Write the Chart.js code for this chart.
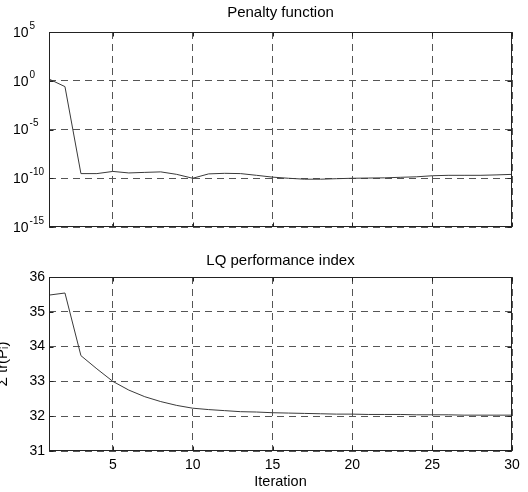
<!DOCTYPE html>
<html><head><meta charset="utf-8">
<script src="https://cdn.jsdelivr.net/npm/chart.js@4.4.1/dist/chart.umd.min.js"></script>
<style>
html,body{margin:0;padding:0;background:#fff;width:528px;height:492px;overflow:hidden;position:relative}
#c1{position:absolute;left:0;top:0}
#c2{position:absolute;left:-6px;top:240px}
</style></head><body>
<canvas id="c1" width="528" height="240"></canvas>
<canvas id="c2" width="534" height="252"></canvas>
<script>
const iterations = [1,2,3,4,5,6,7,8,9,10,11,12,13,14,15,16,17,18,19,20,21,22,23,24,25,26,27,28,29,30];
const penalty = [1.5,0.25,3e-10,3e-10,5e-10,3.5e-10,4e-10,4.5e-10,2.5e-10,1e-10,2.8e-10,3.2e-10,3e-10,2e-10,1.3e-10,1e-10,8e-11,8e-11,9e-11,1e-10,1.05e-10,1.1e-10,1.25e-10,1.4e-10,1.8e-10,2e-10,2e-10,2e-10,2.2e-10,2.5e-10];
const lqIndex = [35.48,35.54,33.74,33.36,33.0,32.75,32.56,32.42,32.31,32.23,32.19,32.16,32.13,32.12,32.10,32.09,32.08,32.07,32.06,32.06,32.05,32.05,32.05,32.04,32.04,32.04,32.03,32.03,32.03,32.03];
const xTicks = [5,10,15,20,25,30];
const penaltyTicks = [1e-15,1e-10,1e-5,1,1e5];
const penaltyTickBase = '10';
const penaltyTickExponents = ['-15','-10','-5','0','5'];
const lqTicks = [31,32,33,34,35,36];
const titleTop = 'Penalty function';
const titleBottom = 'LQ performance index';
const xLabel = 'Iteration';
const yLabelBottom = '\u03A3 tr(P\u1D62)';

const FONT = '"Liberation Sans", Arial, Helvetica, sans-serif';
Chart.defaults.font.family = FONT;
Chart.defaults.font.size = 14;
Chart.defaults.color = '#000';

const gridColor = '#555';
const dash = [7,5];

const framePlugin = {
  id: 'frame',
  afterDatasetsDraw(chart) {
    const {ctx, chartArea: a} = chart;
    const L = Math.round(a.left) + 0.5, T = Math.round(a.top) + 0.5;
    const R = Math.round(a.right) - 0.5, B = Math.round(a.bottom) - 0.5;
    ctx.save();
    ctx.setLineDash([]);
    ctx.strokeStyle = '#222';
    ctx.lineWidth = 1;
    ctx.strokeRect(L, T, R - L, B - T);
    const xs = chart.scales.x, ys = chart.scales.y;
    ctx.beginPath();
    xs.ticks.forEach(t => {
      const px = Math.round(xs.getPixelForValue(t.value)) + 0.5;
      ctx.moveTo(px, B); ctx.lineTo(px, B - 4);
      ctx.moveTo(px, T); ctx.lineTo(px, T + 4);
    });
    ys.ticks.forEach(t => {
      const py = Math.round(ys.getPixelForValue(t.value)) + 0.5;
      ctx.moveTo(L, py); ctx.lineTo(L + 4, py);
      ctx.moveTo(R, py); ctx.lineTo(R - 4, py);
    });
    ctx.stroke();
    ctx.restore();
  }
};

// draws the power-of-ten tick labels with real superscript exponents, placed by the y scale
const powerLabelsPlugin = {
  id: 'powerLabels',
  afterDraw(chart) {
    const {ctx} = chart;
    const ys = chart.scales.y;
    ctx.save();
    ctx.fillStyle = '#000';
    ctx.textBaseline = 'middle';
    ctx.textAlign = 'left';
    ys.ticks.forEach((t, i) => {
      const py = ys.getPixelForValue(t.value);
      const x0 = 13;
      ctx.font = '14px ' + FONT;
      ctx.fillText(penaltyTickBase, x0, py + 1);
      const w = ctx.measureText(penaltyTickBase).width;
      ctx.font = '10px ' + FONT;
      ctx.fillText(penaltyTickExponents[i], x0 + w + 1, py - 6);
    });
    ctx.restore();
  }
};

function pts(ys) { return iterations.map((x, i) => ({x: x, y: ys[i]})); }

const lineDS = (data) => ({data: data, borderColor: '#3a3a3a', borderWidth: 1, pointRadius: 0, tension: 0, fill: false});

new Chart(document.getElementById('c1'), {
  type: 'line',
  data: {datasets: [lineDS(pts(penalty))]},
  options: {
    responsive: false, animation: false,
    layout: {padding: {left: 13, right: 16, top: 0, bottom: 13}},
    plugins: {legend: {display: false}, tooltip: {enabled: false}, title: {display: false}},
    scales: {
      x: {type: 'linear', min: 1, max: 30,
        afterBuildTicks: s => { s.ticks = xTicks.map(v => ({value: v})); },
        ticks: {display: false},
        grid: {color: gridColor, drawTicks: false, lineWidth: 1},
        border: {display: false, dash: dash},
        afterFit: s => { s.height = 0; }},
      xt: {type: 'linear', position: 'top', min: 1, max: 30,
        grid: {display: false}, ticks: {display: false}, border: {display: false},
        title: {display: true, text: titleTop, padding: {top: 4, bottom: 0}, font: {size: 15}},
        afterFit: s => { s.height = 32; }},
      y: {type: 'logarithmic', min: 1e-15, max: 1e5,
        afterBuildTicks: s => { s.ticks = penaltyTicks.map(v => ({value: v})); },
        ticks: {display: false},
        grid: {color: gridColor, drawTicks: false, lineWidth: 1},
        border: {display: false, dash: dash},
        afterFit: s => { s.width = 36; }}
    }
  },
  plugins: [framePlugin, powerLabelsPlugin]
});

new Chart(document.getElementById('c2'), {
  type: 'line',
  data: {datasets: [lineDS(pts(lqIndex))]},
  options: {
    responsive: false, animation: false,
    layout: {padding: {left: 0, right: 16, top: 0, bottom: 0}},
    plugins: {legend: {display: false}, tooltip: {enabled: false}, title: {display: false}},
    scales: {
      x: {type: 'linear', min: 1, max: 30,
        afterBuildTicks: s => { s.ticks = xTicks.map(v => ({value: v})); },
        ticks: {padding: 6, autoSkip: false, maxRotation: 0, font: {size: 14}},
        grid: {color: gridColor, drawTicks: false, lineWidth: 1},
        border: {display: false, dash: dash},
        title: {display: true, text: xLabel, padding: {top: 0, bottom: 1}, font: {size: 14.5}},
        afterFit: s => { s.height = 41; }},
      xt: {type: 'linear', position: 'top', min: 1, max: 30,
        grid: {display: false}, ticks: {display: false}, border: {display: false},
        title: {display: true, text: titleBottom, padding: {top: 12, bottom: 0}, font: {size: 15}},
        afterFit: s => { s.height = 37; }},
      y: {type: 'linear', min: 31, max: 36,
        afterBuildTicks: s => { s.ticks = lqTicks.map(v => ({value: v})); },
        ticks: {autoSkip: false, padding: 4, font: {size: 14}},
        grid: {color: gridColor, drawTicks: false, lineWidth: 1},
        border: {display: false, dash: dash},
        title: {display: true, text: yLabelBottom, padding: {top: 0, bottom: 0}, font: {size: 15}},
        afterFit: s => { s.width = 55; }}
    }
  },
  plugins: [framePlugin]
});
</script>
</body></html>
